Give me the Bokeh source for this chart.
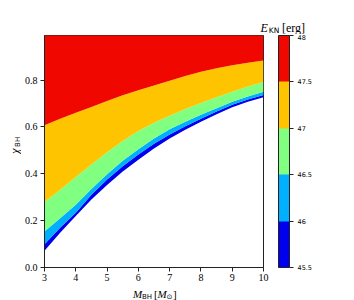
import math
from bokeh.plotting import figure
from bokeh.layouts import column, row
from bokeh.models import (ColorBar, LinearColorMapper, FixedTicker, CustomJSTickFormatter,
                          ColumnDataSource, Range1d)
from bokeh.core.properties import value
from bokeh.embed import file_html
from bokeh.resources import INLINE

# ---- data ----
m_bh = [3.0, 3.5, 4.0, 4.5, 5.0, 5.5, 6.0, 6.5, 7.0, 7.5, 8.0, 8.5, 9.0, 9.5, 10.0]
# chi_BH where log10(E_KN) crosses each contour level
chi_455 = [0.072, 0.148, 0.220, 0.290, 0.352, 0.410, 0.460, 0.508, 0.550, 0.588, 0.622, 0.654, 0.684, 0.707, 0.726]
chi_460 = [0.099, 0.170, 0.234, 0.310, 0.375, 0.432, 0.482, 0.528, 0.568, 0.603, 0.635, 0.666, 0.695, 0.717, 0.736]
chi_465 = [0.154, 0.210, 0.268, 0.335, 0.398, 0.455, 0.505, 0.550, 0.590, 0.622, 0.652, 0.680, 0.707, 0.730, 0.750]
chi_470 = [0.280, 0.332, 0.386, 0.440, 0.492, 0.540, 0.583, 0.618, 0.648, 0.676, 0.702, 0.726, 0.750, 0.772, 0.792]
chi_475 = [0.607, 0.635, 0.660, 0.685, 0.710, 0.735, 0.756, 0.777, 0.797, 0.817, 0.835, 0.850, 0.863, 0.874, 0.883]
chi_max = [1.0] * len(m_bh)   # physical upper limit of the spin

levels = [45.5, 46.0, 46.5, 47.0, 47.5, 48.0]
colors = ["#0000ee", "#00b0ff", "#80ff80", "#ffc400", "#f00800"]
x_ticks = [3, 4, 5, 6, 7, 8, 9, 10]
y_ticks = [0.0, 0.2, 0.4, 0.6, 0.8]

SERIF = "Liberation Serif"
SANS = "DejaVu Sans"

src = ColumnDataSource(dict(m=m_bh, b0=chi_455, b1=chi_460, b2=chi_465,
                            b3=chi_470, b4=chi_475, b5=chi_max))

# ---- main plot ----
p = figure(frame_width=219, frame_height=232, x_range=(3, 10), y_range=(0, 0.99),
           min_border_left=23, min_border_top=1, min_border_bottom=18, min_border_right=60,
           output_backend="svg", toolbar_location=None)
p.background_fill_color = "white"
p.border_fill_color = "white"
p.outline_line_color = "#222222"
p.outline_line_width = 1
p.grid.visible = False

bounds = ["b0", "b1", "b2", "b3", "b4", "b5"]
for i, c in enumerate(colors):
    p.varea(x="m", y1=bounds[i], y2=bounds[i + 1], source=src, fill_color=c)

for ax in (p.xaxis[0], p.yaxis[0]):
    ax.axis_line_color = "#222222"
    ax.major_tick_line_color = "#222222"
    ax.minor_tick_line_color = None
    ax.major_tick_out = 4
    ax.major_tick_in = 0
    ax.major_label_text_font = SERIF
    ax.major_label_text_font_size = "10px"
    ax.major_label_text_color = "black"
p.xaxis[0].ticker = FixedTicker(ticks=x_ticks)
p.yaxis[0].ticker = FixedTicker(ticks=y_ticks)
p.yaxis[0].formatter = CustomJSTickFormatter(code="return tick.toFixed(1)")
p.xaxis[0].major_label_standoff = 2
p.yaxis[0].major_label_standoff = 3

mapper = LinearColorMapper(palette=colors, low=levels[0], high=levels[-1])
cb = ColorBar(color_mapper=mapper, ticker=FixedTicker(ticks=levels),
              formatter=CustomJSTickFormatter(code="return tick.toString()"),
              width=11, height=232, padding=0, margin=0, location=(15, 0),
              bar_line_color="#222222", bar_line_width=1,
              major_tick_line_color="#222222", major_tick_out=4, major_tick_in=0,
              minor_tick_line_color=None,
              major_label_text_font=SANS, major_label_text_font_size="6.5px",
              major_label_text_color="black",
              label_standoff=4, background_fill_alpha=0, border_line_color=None)
p.add_layout(cb, "right")


def text_fig(w, y_top, y_bottom):
    # a bare figure whose data units are page pixels (y negated so the range increases upward)
    f = figure(width=w, height=int(round(y_bottom - y_top)), x_range=Range1d(0, w),
               y_range=Range1d(-y_bottom, -y_top), x_axis_type=None, y_axis_type=None,
               min_border=0, min_border_left=0, min_border_right=0,
               min_border_top=0, min_border_bottom=0,
               output_backend="svg", toolbar_location=None)
    f.grid.visible = False
    f.outline_line_color = None
    f.background_fill_color = "white"
    f.border_fill_color = "white"
    return f


def put(f, txt, x, y, font, size, style="normal", angle=0.0):
    f.text(x=[x], y=[-y], text=[txt], text_font=value(font), text_font_size=value(size),
           text_font_style=style, text_align="left", text_baseline="alphabetic",
           angle=angle, text_color="black")


# colorbar title  E_KN [erg]
top = text_fig(320, 0, 34)
put(top, "E", 260, 27.3, SERIF, "12px", "italic")
put(top, "KN", 268.3, 30, SANS, "7.5px")
put(top, "[erg]", 281.5, 27.3, SERIF, "12px")

# y label  chi_BH
ylab = text_fig(21, 34, 285)
put(ylab, "\u03c7", 14.6, 162, SERIF, "12px", "italic", math.pi / 2)
put(ylab, "BH", 17.0, 154.5, SANS, "7px", "normal", math.pi / 2)

# x label  M_BH [M_sun]
xlab = text_fig(320, 285, 300)
put(xlab, "M", 132.5, 293, SERIF, "11px", "italic")
put(xlab, "BH", 141.5, 296, SANS, "7px")
put(xlab, "[", 153.5, 293, SERIF, "11px")
put(xlab, "M", 157, 293, SERIF, "11px", "italic")
put(xlab, "\u2299", 166, 296, SANS, "7px")
put(xlab, "]", 172.5, 293, SERIF, "11px")

layout = column(top, row(ylab, p, spacing=0), xlab, spacing=0)

open("out.html", "w").write(file_html(layout, INLINE))
